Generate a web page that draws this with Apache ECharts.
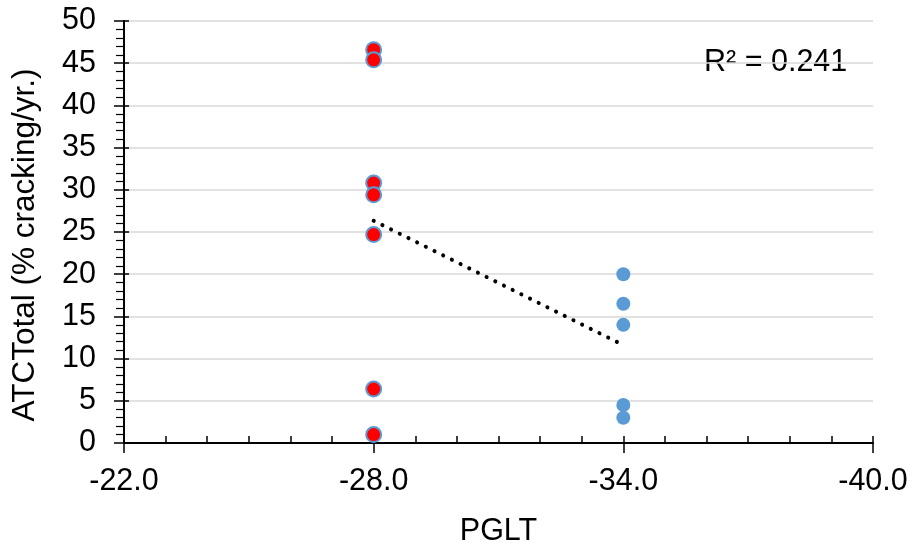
<!DOCTYPE html>
<html>
<head>
<meta charset="utf-8">
<script src="https://cdn.jsdelivr.net/npm/echarts@6/dist/echarts.min.js"></script>
<style>html,body{margin:0;padding:0;background:#fff}#c{width:914px;height:546px}</style>
</head>
<body>
<div id="c"></div>
<script>
// Data
const redX = [-28, -28, -28, -28, -28, -28, -28];
const redY = [46.6, 45.4, 30.8, 29.4, 24.7, 6.4, 1.0];
const blueX = [-34, -34, -34, -34, -34];
const blueY = [20.0, 16.5, 14.0, 4.5, 3.0];
const xTickLabels = [-22, -28, -34, -40];
const yTickLabels = [0, 5, 10, 15, 20, 25, 30, 35, 40, 45, 50];
const rSquaredText = 'R² = 0.241';
const xTitle = 'PGLT';
const yTitle = 'ATCTotal (% cracking/yr.)';

// Linear trendline through all points (least squares)
const allX = redX.concat(blueX), allY = redY.concat(blueY);
const n = allX.length;
const mx = allX.reduce((a, b) => a + b, 0) / n;
const my = allY.reduce((a, b) => a + b, 0) / n;
let sxy = 0, sxx = 0;
for (let i = 0; i < n; i++) { sxy += (allX[i] - mx) * (allY[i] - my); sxx += (allX[i] - mx) ** 2; }
const slope = sxy / sxx, icpt = my - slope * mx;
const trendX = [Math.max(...allX), Math.min(...allX)];
const trendData = trendX.map(x => [x, icpt + slope * x]);

const FONT = 'Liberation Sans, Arial, sans-serif';
const FS = 30.5;
const chart = echarts.init(document.getElementById('c'), null, { renderer: 'canvas' });
chart.setOption({
  animation: false,
  grid: { left: 124, right: 41, top: 21, bottom: 103, containLabel: false, outerBoundsMode: 'none' },
  xAxis: [{
    type: 'value', min: -40, max: -22, inverse: true,
    axisLine: { show: true, onZero: false, lineStyle: { color: '#000', width: 2 } },
    axisTick: { show: true, inside: false, length: 10, customValues: xTickLabels, lineStyle: { color: '#000', width: 1.5 } },
    axisLabel: { customValues: xTickLabels, formatter: v => v.toFixed(1), color: '#000', fontSize: FS, fontFamily: FONT, margin: 23 },
    splitLine: { show: false },
    name: xTitle, nameLocation: 'middle', nameGap: 73,
    nameTextStyle: { color: '#000', fontSize: FS, fontFamily: FONT }
  }, {
    type: 'value', min: -40, max: -22, inverse: true, interval: 1, position: 'bottom',
    axisLine: { show: false, onZero: false },
    axisTick: { show: true, inside: true, length: 7, lineStyle: { color: '#000', width: 1.5 } },
    axisLabel: { show: false }, splitLine: { show: false }
  }],
  yAxis: [{
    type: 'value', min: 0, max: 50, interval: 5,
    axisLine: { show: true, onZero: false, lineStyle: { color: '#000', width: 2 } },
    axisTick: { show: true, inside: false, length: 10, lineStyle: { color: '#000', width: 1.5 } },
    minorTick: { show: true, splitNumber: 5, length: 8, lineStyle: { color: '#000', width: 1.2 } },
    axisLabel: { color: '#000', fontSize: FS, fontFamily: FONT, margin: 28 },
    splitLine: { show: true, lineStyle: { color: '#d9d9d9', width: 1.5 } }
  }, {
    type: 'value', min: 0, max: 50, interval: 5, position: 'left',
    axisLine: { show: false, onZero: false },
    axisTick: { show: true, inside: true, length: 5, lineStyle: { color: '#000', width: 1.5 } },
    axisLabel: { show: false }, splitLine: { show: false }
  }],
  series: [{
    type: 'line', data: trendData, symbol: 'none', z: 3,
    lineStyle: { color: '#000', width: 4, type: [0.1, 9.6], cap: 'round' }
  }, {
    type: 'scatter', data: blueX.map((x, i) => [x, blueY[i]]), symbolSize: 14, z: 4,
    itemStyle: { color: '#5b9bd5', opacity: 1 }
  }, {
    type: 'scatter', data: redX.map((x, i) => [x, redY[i]]), symbolSize: 15, z: 5,
    itemStyle: { color: '#ff0000', borderColor: '#5b9bd5', borderWidth: 2, opacity: 1 }
  }],
  graphic: [{
    type: 'text', x: 704, y: 63,
    style: { text: rSquaredText, fill: '#000', fontSize: FS, fontFamily: FONT, verticalAlign: 'middle', align: 'left' }
  }, {
    type: 'text', x: 25, y: 245, rotation: Math.PI / 2,
    style: { text: yTitle, fill: '#000', fontSize: 31.5, fontFamily: FONT, verticalAlign: 'middle', align: 'center' }
  }]
});
</script>
</body>
</html>
